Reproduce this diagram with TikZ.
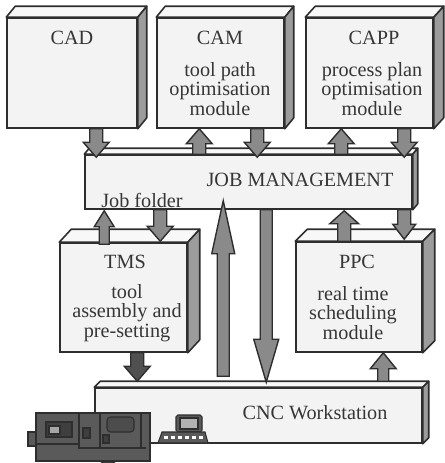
\documentclass[tikz,border=0pt]{standalone}
\usepackage{fontspec}
\setmainfont{Liberation Serif}
\usetikzlibrary{calc}

\definecolor{edge}{HTML}{2E2E2E}
\definecolor{face}{HTML}{F3F3F3}
\definecolor{topface}{HTML}{F8F8F8}
\definecolor{sideface}{HTML}{9C9C9C}
\definecolor{flowgray}{HTML}{8A8A8A}
\definecolor{flowdark}{HTML}{505050}
\definecolor{ink}{HTML}{363636}
\definecolor{machine}{HTML}{5A5A5A}

\tikzset{
  arr shaft/.store in=\arrshaft,
  arr head/.store in=\arrhead,
  arr len/.store in=\arrlen,
  arr shaft=0.13cm, arr head=0.26cm, arr len=0.3cm,
  module/.style={draw=edge, fill=face, line width=0.9pt, inner sep=0pt},
  txt/.style={text=ink, font=\fontsize{11.5}{11.2}\selectfont, align=center, inner sep=0pt},
  flow/.style={draw=edge, fill=flowgray, line width=0.8pt, to path={
    let \p1=(\tikztostart), \p2=(\tikztotarget), \n1={sign(\y2-\y1)} in
    ({\x1-\arrshaft},\y1) -- ({\x1-\arrshaft},{\y2-(\n1)*\arrlen})
    -- ({\x1-\arrhead},{\y2-(\n1)*\arrlen}) -- (\x1,\y2)
    -- ({\x1+\arrhead},{\y2-(\n1)*\arrlen}) -- ({\x1+\arrshaft},{\y2-(\n1)*\arrlen})
    -- ({\x1+\arrshaft},\y1) -- cycle}},
}

% top and side face of a box node, depth given as (dx,dy)
\newcommand\boxfaces[3]{%
  \filldraw[draw=edge, fill=topface, line width=0.9pt, line join=round]
    (#1.north west) -- ++(#2,#3) -- ($(#1.north east)+(#2,#3)$) -- (#1.north east) -- cycle;
  \filldraw[draw=edge, fill=sideface, line width=0.9pt, line join=round]
    (#1.north east) -- ++(#2,#3) -- ($(#1.south east)+(#2,#3)$) -- (#1.south east) -- cycle;}

\begin{document}
\begin{tikzpicture}[x=0.02cm, y=-0.02cm]
\useasboundingbox (0,0) rectangle (444,463);

% modules
\node[module, minimum width=2.6cm, minimum height=2.2cm] (cad) at (72,73) {};
\node[module, minimum width=2.54cm, minimum height=2.2cm] (cam) at (220.5,73) {};
\node[module, minimum width=2.54cm, minimum height=2.2cm] (capp) at (369.5,73) {};
\node[module, minimum width=6.54cm, minimum height=1.08cm] (jm) at (248.5,182) {};
\node[module, minimum width=2.54cm, minimum height=2.18cm] (tms) at (123.5,297.5) {};
\node[module, minimum width=2.52cm, minimum height=2.2cm] (ppc) at (359,297) {};
\node[module, minimum width=6.54cm, minimum height=1.1cm] (cnc) at (258.5,415.5) {};

\boxfaces{cad}{9}{-11}
\boxfaces{cam}{9}{-11}
\boxfaces{capp}{10}{-11}
\boxfaces{jm}{5}{-6}
\boxfaces{tms}{12}{-13}
\boxfaces{ppc}{12}{-12}
\boxfaces{cnc}{6}{-6}

% CNC machine
\begin{scope}[draw=edge, line width=0.6pt]
\filldraw[fill=machine] (28,432) rectangle (36,446);
\filldraw[fill=machine, rounded corners=2pt] (100,455) rectangle (116,463);
\filldraw[fill=machine] (36,413) rectangle (150,461);
\draw (36,444) -- (79,444);
\draw (79,413) -- (79,448) -- (146,448);
\draw (100,413) -- (100,448);
\draw (141,413) -- (141,448);
\filldraw[fill=machine!70!black] (46,422) rectangle (72,437);
\filldraw[fill=gray!70] (49,426) rectangle (60,434);
\filldraw[fill=machine!70!black] (83,428) rectangle (90,438);
\filldraw[fill=machine!85!black, rounded corners=2pt] (107,417) rectangle (134,432);
\filldraw[fill=machine!70!black] (103,435) rectangle (109,443);
\end{scope}

% terminal
\begin{scope}[draw=edge, line width=0.6pt]
\filldraw[fill=machine, rounded corners=1pt] (176,415) rectangle (202,432);
\filldraw[fill=gray!60] (180,418) rectangle (198,429);
\filldraw[fill=machine] (158,443) -- (162,432) -- (205,432) -- (208,443) -- cycle;
\foreach \k in {0,...,5}
  \fill[white] (164+\k*7,436) rectangle ++(4,3);
\end{scope}

% labels
\node[txt] (cadname) at (72,38) {CAD};
\node[txt] (camname) at (220,38) {CAM};
\node[txt] (camtext) at (220,89) {tool path\\optimisation\\module};
\node[txt] (cappname) at (374,38) {CAPP};
\node[txt] (capptext) at (372,89) {process plan\\optimisation\\module};
\node[txt] (jmname) at (300,180) {JOB MANAGEMENT};
\node[txt] (folder) at (142,200) {Job folder};
\node[txt] (tmsname) at (125,262) {TMS};
\node[txt] (tmstext) at (127,313) {tool\\assembly and\\pre-setting};
\node[txt] (ppcname) at (357,262) {PPC};
\node[txt] (ppctext) at (353,313) {real time\\scheduling\\module};
\node[txt] (cncname) at (315,413) {CNC Workstation};

% flows
\draw[flow] ($(cad.south west)+(90,0)$) to ($(jm.north west)+(0,3)$);
\draw[flow] ($(jm.north west)+(115,0)$) to (cam.south west);
\draw[flow] ($(cam.south west)+(101,0)$) to ($(jm.north west)+(0,3)$);
\draw[flow] ($(jm.north west)+(257,0)$) to (capp.south west);
\draw[flow] ($(capp.south west)+(99,0)$) to ($(jm.north west)+(0,3)$);

\draw[flow] ($(jm.south west)+(76,0)$) to ($(tms.north west)+(0,-1)$);
\draw[flow, arr shaft=0.1cm, arr head=0.2cm, arr len=0.32cm]
  ($(tms.north west)+(45,2)$) to ($(jm.south west)+(0,1)$);
\draw[flow, arr shaft=0.12cm, arr head=0.23cm, arr len=1.06cm]
  ($(cnc.north west)+(129,-11)$) to ($(jm.south west)+(0,-9)$);
\draw[flow, arr shaft=0.12cm, arr head=0.25cm, arr len=0.86cm]
  ($(jm.south west)+(182,0)$) to ($(cnc.north west)+(0,-5)$);
\draw[flow, arr head=0.23cm] ($(jm.south west)+(320,0)$) to ($(ppc.north west)+(0,-2)$);
\draw[flow, arr head=0.29cm, arr len=0.26cm] ($(ppc.north west)+(49,0)$) to ($(jm.south west)+(0,1)$);

\draw[flow, fill=flowdark] ($(tms.south west)+(78,0)$) to ($(cnc.north west)+(0,-6)$);
\draw[flow, arr shaft=0.11cm, arr len=0.32cm] ($(cnc.north west)+(289,-6)$) to (ppc.south west);
\end{tikzpicture}
\end{document}
